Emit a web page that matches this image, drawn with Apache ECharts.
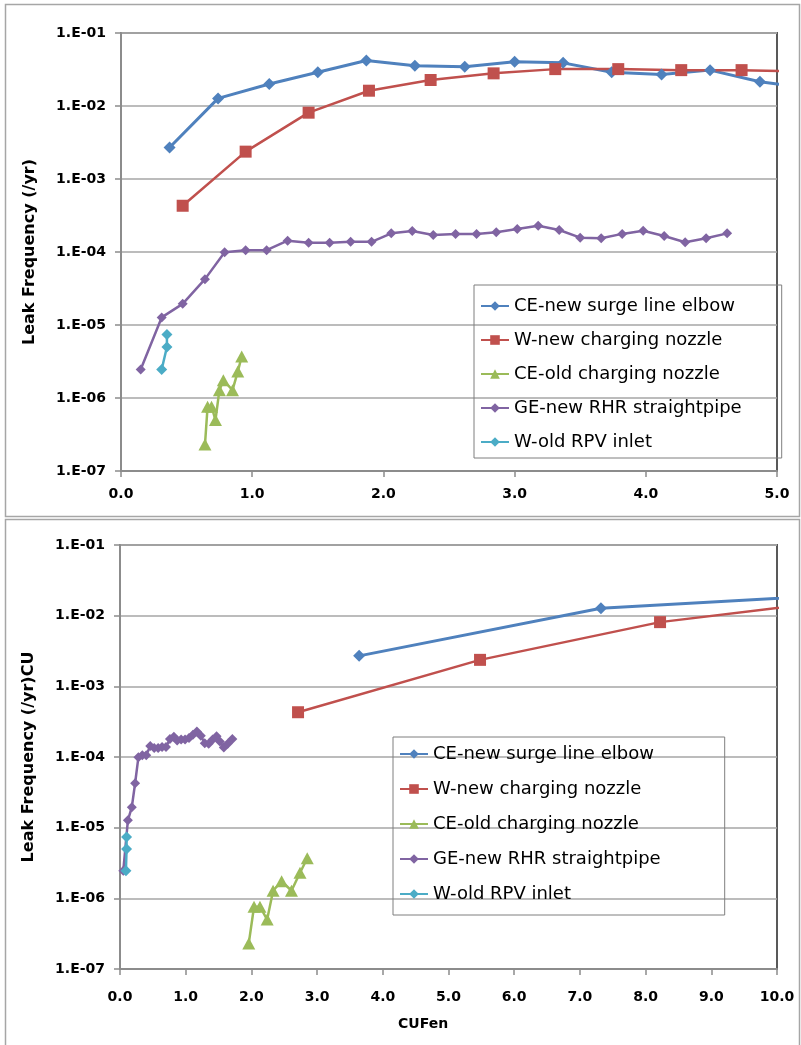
<!DOCTYPE html>
<html>
<head>
<meta charset="utf-8">
<script src="https://cdn.jsdelivr.net/npm/echarts@6/dist/echarts.min.js"></script>
<style>
  html, body { margin: 0; padding: 0; background: #fff; }
  #chart { width: 801px; height: 1045px; }
</style>
</head>
<body>
<div id="chart"></div>
<script>
// series names
const names = ['CE-new surge line elbow', 'W-new charging nozzle', 'CE-old charging nozzle', 'GE-new RHR straightpipe', 'W-old RPV inlet'];

// leak frequency (/yr), shared by both panels
const blueY = [2.7e-3, 1.27e-2, 2.0e-2, 2.9e-2, 4.2e-2, 3.55e-2, 3.45e-2, 4.05e-2, 3.9e-2, 2.9e-2, 2.7e-2, 3.1e-2, 2.15e-2, 1.75e-2];
const redY = [4.3e-4, 2.37e-3, 8.1e-3, 1.62e-2, 2.27e-2, 2.8e-2, 3.2e-2, 3.2e-2, 3.1e-2, 3.1e-2, 2.95e-2];
const greenY = [2.3e-7, 7.6e-7, 7.6e-7, 5.0e-7, 1.28e-6, 1.75e-6, 1.28e-6, 2.3e-6, 3.7e-6];
const purpleY = [2.45e-6, 1.27e-5, 1.95e-5, 4.25e-5, 9.9e-5, 1.06e-4, 1.06e-4, 1.43e-4, 1.34e-4, 1.34e-4, 1.38e-4, 1.38e-4, 1.80e-4, 1.94e-4, 1.71e-4, 1.77e-4, 1.77e-4, 1.86e-4, 2.07e-4, 2.29e-4, 2.0e-4, 1.57e-4, 1.54e-4, 1.77e-4, 1.96e-4, 1.66e-4, 1.36e-4, 1.54e-4, 1.80e-4];
const cyanY = [2.45e-6, 5.0e-6, 7.4e-6];

// top panel x values
const blueX = [0.37, 0.74, 1.13, 1.50, 1.87, 2.24, 2.62, 3.00, 3.37, 3.74, 4.12, 4.49, 4.87, 5.24];
const redX = [0.47, 0.95, 1.43, 1.89, 2.36, 2.84, 3.31, 3.79, 4.27, 4.73, 5.20];
const greenX = [0.64, 0.66, 0.69, 0.72, 0.75, 0.78, 0.85, 0.89, 0.92];
const purpleX = [0.15, 0.31, 0.47, 0.64, 0.79, 0.95, 1.11, 1.27, 1.43, 1.59, 1.75, 1.91, 2.06, 2.22, 2.38, 2.55, 2.71, 2.86, 3.02, 3.18, 3.34, 3.50, 3.66, 3.82, 3.98, 4.14, 4.30, 4.46, 4.62];
const cyanX = [0.31, 0.35, 0.35];

// bottom panel x values (CUFen)
const blueCuf = [3.64, 7.32, 11.1];
const redCuf = [2.71, 5.48, 8.22, 10.9];
const greenCuf = [1.96, 2.04, 2.13, 2.24, 2.33, 2.46, 2.61, 2.74, 2.85];
const purpleCuf = [0.05, 0.12, 0.18, 0.23, 0.28, 0.34, 0.40, 0.46, 0.52, 0.58, 0.64, 0.70, 0.76, 0.82, 0.87, 0.93, 0.99, 1.05, 1.11, 1.17, 1.23, 1.29, 1.35, 1.41, 1.47, 1.52, 1.58, 1.64, 1.71];
const cyanCuf = [0.09, 0.10, 0.10];

// tick labels
const yTickLabels = { '-7': '1.E-07', '-6': '1.E-06', '-5': '1.E-05', '-4': '1.E-04', '-3': '1.E-03', '-2': '1.E-02', '-1': '1.E-01' };

const colors = ['#4F81BD', '#C0504D', '#9BBB59', '#8064A2', '#4BACC6'];
const symbols = ['diamond', 'rect', 'triangle', 'diamond', 'diamond'];
const symbolSizes = [12, 12, [13, 12], 10, 11];
const lineWidths = [3, 2.5, 2.5, 2.5, 2.5];

function zip(xs, ys) {
    return xs.map((x, i) => [x, ys[i]]);
}

const font = 'DejaVu Sans';

function yAxis(gridIndex, name) {
    return {
        type: 'log', logBase: 10, min: 1e-7, max: 1e-1, gridIndex: gridIndex,
        name: name, nameLocation: 'middle', nameGap: 83,
        nameTextStyle: { fontFamily: font, fontWeight: 'bold', fontSize: 16, color: '#000' },
        axisLine: { show: true, lineStyle: { color: '#8c8c8c', width: 2 } },
        axisTick: { show: true, length: 6, lineStyle: { color: '#8c8c8c', width: 1.5 } },
        axisLabel: {
            margin: 15, fontFamily: font, fontWeight: 'bold', fontSize: 14, color: '#000',
            formatter: v => yTickLabels[Math.round(Math.log10(v))] || ''
        },
        splitLine: { show: true, lineStyle: { color: '#a6a6a6', width: 1.5 } },
        minorTick: { show: false }
    };
}

function xAxis(gridIndex, max, margin) {
    return {
        type: 'value', min: 0, max: max, interval: 1, gridIndex: gridIndex,
        axisLine: { show: true, onZero: false, lineStyle: { color: '#8c8c8c', width: 2 } },
        axisTick: { show: true, length: 6, lineStyle: { color: '#8c8c8c', width: 1.5 } },
        axisLabel: {
            margin: margin, fontFamily: font, fontWeight: 'bold', fontSize: 14, color: '#000',
            formatter: v => v.toFixed(1)
        },
        splitLine: { show: false }
    };
}

const topX = [blueX, redX, greenX, purpleX, cyanX];
const botX = [blueCuf, redCuf, greenCuf, purpleCuf, cyanCuf];
const allY = [blueY, redY, greenY, purpleY, cyanY];

const series = [];
[topX, botX].forEach((xsets, g) => {
    names.forEach((name, i) => {
        series.push({
            name: name,
            type: 'line',
            xAxisIndex: g, yAxisIndex: g,
            data: zip(xsets[i], allY[i]),
            symbol: symbols[i],
            symbolSize: symbolSizes[i],
            showAllSymbol: true,
            clip: true,
            color: colors[i],
            lineStyle: { width: lineWidths[i], color: colors[i] },
            itemStyle: { color: colors[i] },
            emphasis: { disabled: true },
            animation: false
        });
    });
});

function legend(left, top, gap, padding) {
    return {
        orient: 'vertical', left: left, top: top,
        data: names,
        itemWidth: 28, itemHeight: 12, itemGap: gap,
        padding: padding,
        borderColor: '#7f7f7f', borderWidth: 1,
        textStyle: { fontFamily: font, fontSize: 18, color: '#000' }
    };
}

const chart = echarts.init(document.getElementById('chart'));
chart.setOption({
    backgroundColor: '#fff',
    animation: false,
    grid: [
        { left: 121, top: 33, width: 656, height: 438, show: true, borderColor: '#595959', borderWidth: 2, backgroundColor: 'transparent' },
        { left: 120, top: 545, width: 657, height: 424, show: true, borderColor: '#595959', borderWidth: 2, backgroundColor: 'transparent' }
    ],
    xAxis: [xAxis(0, 5, 16), xAxis(1, 10, 21)],
    yAxis: [yAxis(0, 'Leak Frequency (/yr)'), yAxis(1, 'Leak Frequency (/yr)CU')],
    legend: [
        legend(474, 285, 16, [12, 40, 7, 6]),
        legend(393, 737, 17, [8, 64, 12, 6])
    ],
    graphic: [
        { type: 'rect', shape: { x: 5.5, y: 4.5, width: 794, height: 512 }, style: { fill: 'none', stroke: '#a6a6a6', lineWidth: 1.5 }, silent: true },
        { type: 'rect', shape: { x: 5.5, y: 519.5, width: 794, height: 540 }, style: { fill: 'none', stroke: '#a6a6a6', lineWidth: 1.5 }, silent: true },
        { type: 'text', left: 398, top: 1017, style: { text: 'CUFen', fontFamily: font, fontWeight: 'bold', fontSize: 14, fill: '#000' } }
    ],
    series: series
});
</script>
</body>
</html>
